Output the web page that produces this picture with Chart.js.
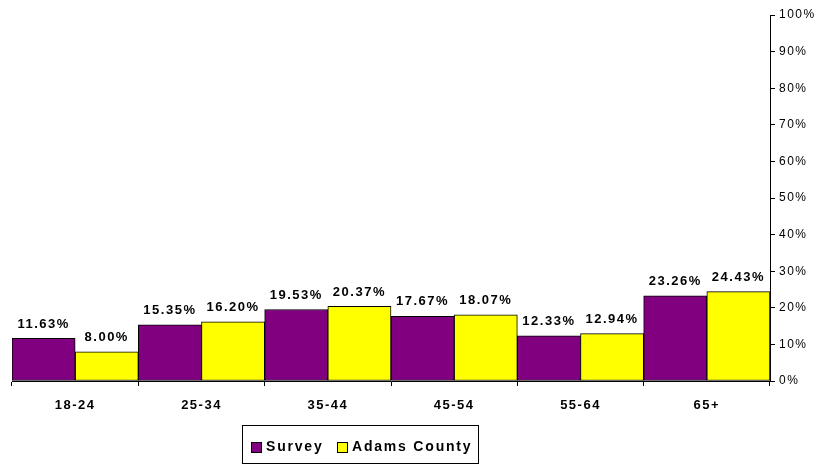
<!DOCTYPE html>
<html>
<head>
<meta charset="utf-8">
<script src="https://cdn.jsdelivr.net/npm/chart.js@4"></script>
<style>
  html, body { margin:0; padding:0; background:#fff; }
  #wrap { width:816px; height:464px; }
</style>
</head>
<body>
<div id="wrap"><canvas id="ageChart" width="816" height="464"></canvas></div>
<script>
const ageGroups = ["18-24", "25-34", "35-44", "45-54", "55-64", "65+"];
const surveyPct = [11.63, 15.35, 19.53, 17.67, 12.33, 23.26];
const adamsPct  = [8.00, 16.20, 20.37, 18.07, 12.94, 24.43];
const seriesNames = ["Survey", "Adams County"];
const seriesColors = ["#800080", "#FFFF00"];

const FONT = "Arial, 'Liberation Sans', sans-serif";

// value labels above each bar
const barLabels = {
  id: "barLabels",
  afterDatasetsDraw(chart){
    const ctx = chart.ctx;
    ctx.save();
    ctx.letterSpacing = "1.5px";
    ctx.font = "bold 13px " + FONT;
    ctx.fillStyle = "#000";
    ctx.textAlign = "center";
    ctx.textBaseline = "bottom";
    chart.data.datasets.forEach((ds, i) => {
      chart.getDatasetMeta(i).data.forEach((bar, j) => {
        ctx.fillText(ds.data[j].toFixed(2) + "%", bar.x, bar.y - 8);
      });
    });
    ctx.restore();
  }
};

// boxed legend at the bottom
const boxLegend = {
  id: "boxLegend",
  beforeDraw(chart){ chart.ctx.letterSpacing = "1.5px"; },
  afterDraw(chart){
    const ctx = chart.ctx;
    ctx.save();
    ctx.strokeStyle = "#000";
    ctx.lineWidth = 1;
    ctx.strokeRect(242.5, 425.5, 236, 38);
    ctx.letterSpacing = "1.8px";
    ctx.font = "bold 14px " + FONT;
    ctx.textBaseline = "middle";
    ctx.textAlign = "left";
    const xs = [251, 337];
    seriesNames.forEach((name, i) => {
      ctx.fillStyle = seriesColors[i];
      ctx.fillRect(xs[i], 442, 10, 10);
      ctx.strokeRect(xs[i] + 0.5, 442.5, 10, 10);
      ctx.fillStyle = "#000";
      ctx.fillText(name, xs[i] + 15, 447.5);
    });
    ctx.restore();
  }
};

new Chart(document.getElementById("ageChart").getContext("2d"), {
  type: "bar",
  data: {
    labels: ageGroups,
    datasets: [
      { label: seriesNames[0], data: surveyPct, backgroundColor: seriesColors[0], borderColor: "#000", borderWidth: 1, borderSkipped: false },
      { label: seriesNames[1], data: adamsPct, backgroundColor: seriesColors[1], borderColor: "#000", borderWidth: 1, borderSkipped: false }
    ]
  },
  options: {
    responsive: false,
    animation: false,
    events: [],
    layout: { padding: { left: 12, top: 15, right: 0, bottom: 0 } },
    plugins: { legend: { display: false }, tooltip: { enabled: false } },
    datasets: { bar: { categoryPercentage: 1.0, barPercentage: 1.0 } },
    scales: {
      x: {
        grid: { display: true, drawOnChartArea: false, color: "#000", tickLength: 5, offset: true },
        border: { display: true, color: "#000" },
        ticks: { color: "#000", font: { family: FONT, size: 13, weight: "bold" }, padding: 12, maxRotation: 0 },
        afterFit(scale){ scale.height = 83; }
      },
      y: {
        position: "right",
        min: 0, max: 100,
        grid: { display: true, drawOnChartArea: false, color: "#000", tickLength: 5 },
        border: { display: true, color: "#000" },
        ticks: { stepSize: 10, color: "#000", font: { family: FONT, size: 12 }, padding: 4, callback: v => v + "%" },
        afterFit(scale){ scale.width = 46; }
      }
    }
  },
  plugins: [barLabels, boxLegend]
});
</script>
</body>
</html>
